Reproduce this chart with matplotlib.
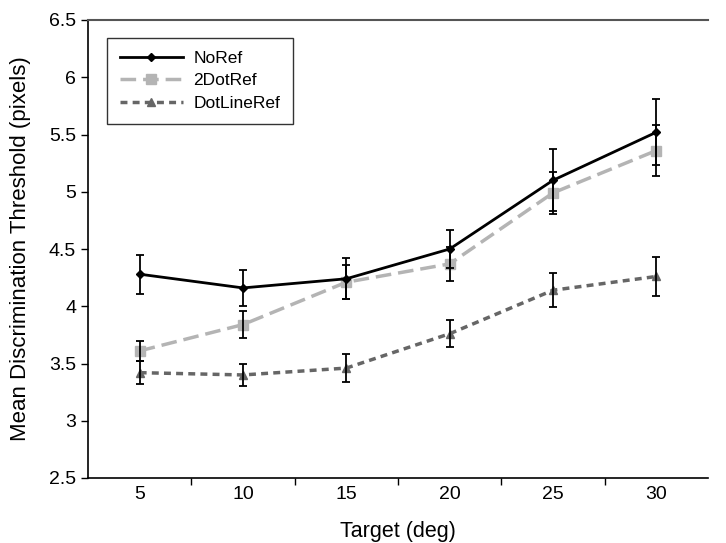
import matplotlib
matplotlib.use("Agg")
import matplotlib.pyplot as plt
from matplotlib.lines import Line2D
import numpy as np

plt.rcParams['font.family'] = ['Liberation Sans', 'DejaVu Sans']

targets = [5, 10, 15, 20, 25, 30]
noref = [4.28, 4.16, 4.24, 4.50, 5.10, 5.52]
noref_err = [0.17, 0.16, 0.18, 0.17, 0.27, 0.29]
dot2 = [3.61, 3.84, 4.21, 4.37, 4.99, 5.36]
dot2_err = [0.09, 0.115, 0.15, 0.15, 0.18, 0.22]
dotline = [3.42, 3.40, 3.46, 3.76, 4.14, 4.26]
dotline_err = [0.10, 0.095, 0.12, 0.12, 0.15, 0.17]
yticks = [2.5, 3, 3.5, 4, 4.5, 5, 5.5, 6, 6.5]
series_names = ['NoRef', '2DotRef', 'DotLineRef']

fig = plt.figure(figsize=(7.26, 5.43), dpi=100)
ax = fig.add_axes([88/726, 1-478/543, 620/726, 458/543])
x = np.arange(len(targets))

styles = [
    dict(color='black', lw=2, marker='D', ms=4, linestyle='-'),
    dict(color='#b4b4b4', lw=2.5, marker='s', ms=7, linestyle=(0, (4.5, 2))),
    dict(color='#666666', lw=2.5, marker='^', ms=6, linestyle=(0, (2, 1.5))),
]
data = [(noref, noref_err), (dot2, dot2_err), (dotline, dotline_err)]
handles = []
for (vals, errs), st, name, z in zip(data, styles, series_names, [4, 3, 3]):
    ax.errorbar(x, vals, yerr=errs, fmt='none', ecolor='black', elinewidth=1.3,
                capsize=3, capthick=1.3, zorder=z + 1)
    ax.plot(x, vals, zorder=z, **st)
    handles.append(Line2D([], [], label=name, **st))

ax.set_xlim(-0.5, len(targets)-0.5)
ax.set_ylim(2.5, 6.5)
ax.set_xticks(x)
ax.set_xticklabels([str(t) for t in targets])
ax.set_xticks(np.arange(0.5, len(targets)-1, 1), minor=True)
ax.tick_params(axis='x', which='major', length=0, labelsize=14, pad=6)
ax.tick_params(axis='x', which='minor', length=5, width=1, direction='out')
ax.set_yticks(yticks)
ax.set_yticklabels([('%g' % v) for v in yticks])
ax.tick_params(axis='y', length=5, width=1, direction='out', labelsize=14)

ax.spines['right'].set_visible(False)
ax.spines['top'].set_color('#555555')
ax.spines['top'].set_linewidth(1.5)
ax.spines['left'].set_linewidth(1.2)
ax.spines['bottom'].set_linewidth(1.2)

ax.set_xlabel('Target (deg)', fontsize=15.5, labelpad=13)
ax.set_ylabel('Mean Discrimination Threshold (pixels)', fontsize=16, labelpad=13)

leg = ax.legend(handles=handles, loc='upper left', bbox_to_anchor=(0.031, 0.961), fontsize=12.5,
                handlelength=3.6, handletextpad=0.6, labelspacing=0.42,
                frameon=True, fancybox=False, borderaxespad=0, borderpad=0.75)
leg.get_frame().set_edgecolor('black')
leg.get_frame().set_linewidth(1.0)

fig.savefig('out.png', dpi=100)
